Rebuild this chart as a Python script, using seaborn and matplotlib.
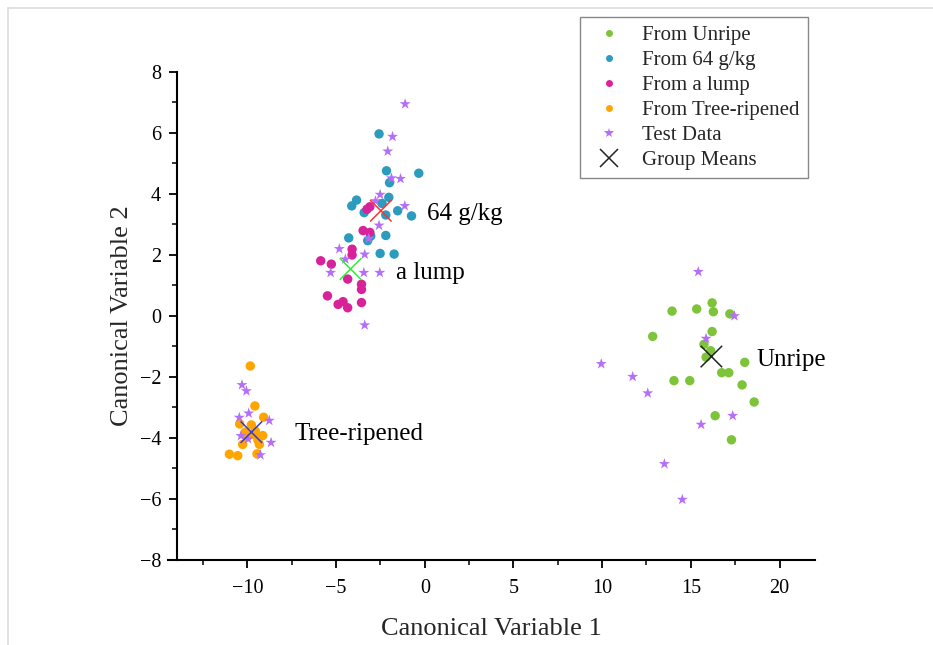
import numpy as np
import pandas as pd
import matplotlib
matplotlib.use("Agg")
import matplotlib.pyplot as plt
from matplotlib.lines import Line2D
import seaborn as sns

# ---------------- data ----------------
unripe_x = [13.94, 15.33, 16.20, 16.27, 17.20, 12.85, 16.20, 15.74, 16.12, 15.86,
            18.04, 16.74, 17.14, 14.05, 14.94, 17.89, 18.57, 16.37, 17.29]
unripe_y = [0.16, 0.23, 0.43, 0.14, 0.07, -0.67, -0.51, -0.93, -1.14, -1.35,
            -1.52, -1.86, -1.86, -2.12, -2.12, -2.26, -2.82, -3.27, -4.06]

g64_x = [-2.58, -2.16, -0.34, -1.99, -3.85, -4.12, -2.03, -2.41, -3.42, -2.20,
         -1.53, -0.75, -3.05, -2.20, -4.29, -3.22, -2.52, -1.73]
g64_y = [5.97, 4.76, 4.68, 4.37, 3.80, 3.61, 3.89, 3.69, 3.39, 3.31,
         3.45, 3.28, 2.62, 2.64, 2.56, 2.47, 2.05, 2.03]

lump_x = [-3.10, -3.26, -3.48, -3.10, -4.10, -4.10, -5.87, -5.27, -4.35, -3.57,
          -3.57, -5.49, -4.89, -4.61, -4.35, -3.57]
lump_y = [3.58, 3.50, 2.80, 2.74, 2.19, 2.00, 1.81, 1.70, 1.21, 1.04,
          0.87, 0.66, 0.38, 0.47, 0.27, 0.44]

tree_x = [-9.84, -9.58, -9.09, -10.44, -9.78, -10.12, -9.56, -9.14, -9.41, -10.00,
          -10.27, -9.33, -11.02, -10.55, -9.46, -9.65]
tree_y = [-1.64, -2.95, -3.32, -3.54, -3.57, -3.81, -3.77, -3.92, -4.07, -3.96,
          -4.21, -4.21, -4.53, -4.58, -4.52, -3.88]

test_x = [-1.11, -1.82, -2.09, -1.88, -1.37, -2.52, -2.78, -1.13, -2.58, -3.16,
          -4.82, -3.39, -4.48, -5.31, -3.44, -2.54, -3.39,
          15.42, 17.46, 15.86, 9.95, 11.72, 12.57, 17.36, 15.58, 13.51, 14.52,
          -10.31, -10.06, -9.93, -10.46, -8.77, -10.37, -9.97, -8.67, -9.27]
test_y = [6.95, 5.88, 5.40, 4.52, 4.50, 3.98, 3.77, 3.61, 2.97, 2.54,
          2.20, 2.02, 1.86, 1.42, 1.42, 1.42, -0.30,
          1.45, 0.00, -0.74, -1.57, -1.99, -2.53, -3.27, -3.56, -4.85, -6.02,
          -2.26, -2.46, -3.19, -3.33, -3.43, -3.93, -4.03, -4.15, -4.56]

groups = ["From Unripe", "From 64 g/kg", "From a lump", "From Tree-ripened"]
mean_names = ["Unripe", "64 g/kg", "a lump", "Tree-ripened"]
mean_x = [16.16, -2.48, -4.19, -9.78]
mean_y = [-1.33, 3.45, 1.54, -3.81]
label_x = [18.68, 0.11, -1.64, -7.34]
label_y = [-1.44, 3.34, 1.41, -3.87]

group_colors = ["#7DC43A", "#2B9BBE", "#D8229A", "#FFA500"]
mean_colors = ["#222222", "#FF3030", "#33EE33", "#3A3ACC"]
test_color = "#B46EF8"

# ---------------- frames ----------------
train = pd.DataFrame({
    "x": unripe_x + g64_x + lump_x + tree_x,
    "y": unripe_y + g64_y + lump_y + tree_y,
    "group": ([groups[0]] * len(unripe_x) + [groups[1]] * len(g64_x)
              + [groups[2]] * len(lump_x) + [groups[3]] * len(tree_x)),
})
test = pd.DataFrame({"x": test_x, "y": test_y})
means = pd.DataFrame({"x": mean_x, "y": mean_y, "name": mean_names})

# ---------------- plot ----------------
sns.set_theme(style="ticks")
plt.rcParams["font.family"] = ["Liberation Serif", "DejaVu Serif"]
plt.rcParams["mathtext.fontset"] = "stix"

fig = plt.figure(figsize=(9.33, 6.45), dpi=100)
ax = fig.add_axes([0.1797, 0.1318, 0.6938, 0.7566])

sns.scatterplot(data=train, x="x", y="y", hue="group", hue_order=groups,
                palette=group_colors, s=46, linewidth=0, edgecolor="none",
                legend=False, ax=ax, zorder=3)
sns.scatterplot(data=test, x="x", y="y", marker="*", color=test_color, s=70,
                linewidth=0, edgecolor="none", legend=False, ax=ax, zorder=4)
sns.scatterplot(data=means, x="x", y="y", hue="name", hue_order=mean_names,
                palette=mean_colors, marker="x", s=240, linewidth=1.1,
                legend=False, ax=ax, zorder=5)

for name, lx, ly in zip(mean_names, label_x, label_y):
    ax.text(lx, ly, name, fontsize=18, ha="left", va="center", color="black")

ax.set_xlim(-14.5, 22)
ax.set_ylim(-8, 8)
ax.spines["left"].set_position(("data", -14))
ax.spines["top"].set_visible(False)
ax.spines["right"].set_visible(False)
for s in ["left", "bottom"]:
    ax.spines[s].set_linewidth(1.5)
    ax.spines[s].set_color("black")

ax.set_xticks([-10, -5, 0, 5, 10, 15, 20])
ax.set_xticks(np.arange(-12.5, 22, 5), minor=True)
ax.set_yticks(np.arange(-8, 9, 2))
ax.set_yticks(np.arange(-7, 8, 2), minor=True)
ax.set_xticklabels(["\u221210", "\u22125", "0", "5", "10", "15", "20"])
ax.set_yticklabels(["\u22128", "\u22126", "\u22124", "\u22122", "0", "2", "4", "6", "8"])
ax.tick_params(axis="both", which="major", direction="out", length=6, width=1.3,
               labelsize=14.5, colors="black", pad=5)
ax.tick_params(axis="x", which="major", pad=8)
ax.tick_params(axis="both", which="minor", direction="out", length=3.5, width=1.1,
               colors="black")

ax.set_xlabel("Canonical Variable 1", fontsize=19, labelpad=14)
ax.set_ylabel("Canonical Variable 2", fontsize=19, labelpad=5)

handles = [Line2D([], [], ls="none", marker="o", markersize=5, color=c,
                  markeredgewidth=0) for c in group_colors]
handles.append(Line2D([], [], ls="none", marker="*", markersize=7,
                      color=test_color, markeredgewidth=0))
handles.append(Line2D([], [], ls="none", marker="x", markersize=13,
                      color="#222222", markeredgewidth=1.1))
leg = fig.legend(handles, groups + ["Test Data", "Group Means"],
                 loc="upper left", bbox_to_anchor=(580 / 933, 1 - 17 / 645),
                 fontsize=15, frameon=True, fancybox=False, framealpha=1,
                 edgecolor="#888888", borderpad=0.4, labelspacing=0.26,
                 handletextpad=0.6, handlelength=2.0, borderaxespad=0)
leg.get_frame().set_linewidth(1.0)

# light frame of the image
fig.add_artist(Line2D([8 / 933, 8 / 933], [0, 1 - 8 / 645], color="#DDDDDD",
                      lw=1.2, transform=fig.transFigure))
fig.add_artist(Line2D([8 / 933, 1], [1 - 8 / 645, 1 - 8 / 645], color="#DDDDDD",
                      lw=1.2, transform=fig.transFigure))

fig.savefig("out.png", dpi=100)
